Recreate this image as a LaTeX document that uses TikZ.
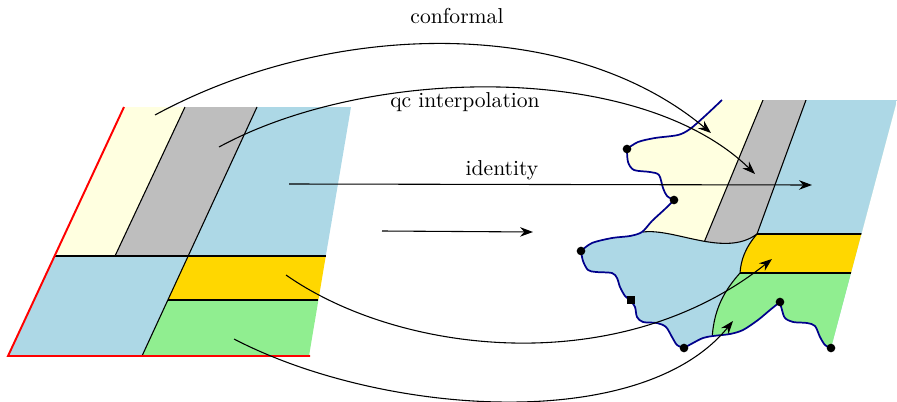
\documentclass[tikz,border=0pt]{standalone}
\usetikzlibrary{arrows.meta}
\definecolor{lyel}{HTML}{FFFFE0}
\definecolor{grayc}{HTML}{BEBEBE}
\definecolor{lbl}{HTML}{ADD8E6}
\definecolor{goldc}{HTML}{FFD700}
\definecolor{lgreen}{HTML}{90EE90}
\definecolor{navyc}{HTML}{00008B}
\begin{document}
\begin{tikzpicture}[x=0.4630pt,y=-0.4630pt,
  conn/.style={line width=0.5pt,-{Stealth[length=6pt,width=4.4pt]}},
  edgeline/.style={line width=0.5pt,black},
  redline/.style={red,line width=0.9pt},
  wavyline/.style={navyc,line width=0.8pt},
  dotc/.style={circle,fill=black,inner sep=0pt,minimum size=4pt},
  sqdot/.style={rectangle,fill=black,inner sep=0pt,minimum size=3.4pt},
  lab/.style={inner sep=1pt}]
\useasboundingbox (0,0) rectangle (897,402);

% ---------- left parallelogram ----------
\fill[lyel] (124,107) -- (185,107) -- (115,256) -- (55,256) -- cycle;
\fill[grayc] (185,107) -- (257,107) -- (188,256) -- (115,256) -- cycle;
\fill[lbl] (257,107) -- (351,107) -- (325.8,256) -- (188,256) -- cycle;
\fill[lbl] (55,256) -- (188,256) -- (142,356) -- (8,356) -- cycle;
\fill[goldc] (188,256) -- (325.8,256) -- (318.4,300) -- (167.6,300) -- cycle;
\fill[lgreen] (167.6,300) -- (318.4,300) -- (309,356) -- (142,356) -- cycle;
\draw[edgeline] (185,107) -- (115,256);
\draw[edgeline] (257,107) -- (142,356);
\draw[edgeline] (55,256) -- (325.8,256);
\draw[edgeline] (167.6,300) -- (318.4,300);
\draw[redline] (124,107) -- (8,356) -- (310,356);

% ---------- right shape ----------
\def\rwave{(722,100) -- plot[smooth] coordinates {(722,100) (705,116) (690,129) (678,135) (655,138) (638,142) (627,149)}
 -- plot[smooth] coordinates {(627,149) (628,162) (634,170) (650,172) (659,175) (663,188) (667,196) (674,200)}
 -- plot[smooth] coordinates {(674,200) (665,209) (652,221) (642,232) (630,236) (612,238) (592,243) (581,251)}
 -- plot[smooth] coordinates {(581,251) (583,261) (588,270) (596,272) (612,273) (617,278) (620,287) (625,296) (630,300)}
 -- plot[smooth] coordinates {(630,300) (635,307) (637,317) (643,322) (657,323) (666,327) (672,337) (677,345) (684,348)}
 -- plot[smooth] coordinates {(684,348) (693,343) (703,338) (713,336) (730,334) (743,330) (758,320) (770,310) (780,302)}
 -- plot[smooth] coordinates {(780,302) (782,310) (785,318) (793,322) (807,323) (815,326) (820,337) (825,345) (831,348)}}
\begin{scope}
\clip \rwave -- (897,100) -- cycle;
\fill[lbl] (550,90) rectangle (900,402);
\begin{scope}
\clip (560,80) -- (900,80) -- (900,234) -- (757,234) .. controls (725,258) and (675,228) .. (643,232) -- (560,232) -- cycle;
\fill[lyel] (560,80) rectangle (900,262);
\fill[grayc] (763,100) -- (806,100) -- (757,234) -- (757,262) -- (696,262) -- cycle;
\fill[lbl] (806,100) -- (900,100) -- (900,234) -- (757,234) -- cycle;
\end{scope}
\fill[goldc] (757,234) -- (900,234) -- (900,273) -- (740,273) .. controls (741,260) and (745,248) .. (757,234) -- cycle;
\fill[lgreen] (740,273) -- (900,273) -- (900,402) -- (712,402) -- (712,345) .. controls (712,310) and (725,290) .. (740,273) -- cycle;
\draw[edgeline] (643,232) .. controls (675,228) and (725,258) .. (757,234);
\draw[edgeline] (763,100) -- (704.5,241.3);
\draw[edgeline] (806,100) -- (757,234);
\draw[edgeline] (757,234) -- (900,234);
\draw[edgeline] (740,273) -- (900,273);
\draw[edgeline] (757,234) .. controls (745,248) and (741,260) .. (740,273) .. controls (725,290) and (712,310) .. (712,345);
\end{scope}
\draw[wavyline] \rwave;
\node[dotc] (d1) at (627,149) {};
\node[dotc] (d2) at (674,200) {};
\node[dotc] (d3) at (581,251) {};
\node[sqdot] (d4) at (631,300) {};
\node[dotc] (d5) at (684,348) {};
\node[dotc] (d6) at (780,302) {};
\node[dotc] (d7) at (831,348) {};

% ---------- connectors ----------
\coordinate (cfS) at (155,115);  \coordinate (cfE) at (711,133);
\coordinate (qcS) at (219,147);  \coordinate (qcE) at (755,174);
\coordinate (idS) at (289,184);  \coordinate (idE) at (812,185);
\coordinate (shS) at (382,231);  \coordinate (shE) at (533,232);
\coordinate (goS) at (286,275);  \coordinate (goE) at (772,259);
\coordinate (grS) at (234,339);  \coordinate (grE) at (733,321);
\draw[conn] (cfS) .. controls (330,20) and (570,15) .. (cfE);
\draw[conn] (qcS) .. controls (370,65) and (640,62) .. (qcE);
\draw[conn] (idS) -- (idE);
\draw[conn] (shS) -- (shE);
\draw[conn] (goS) .. controls (400,355) and (620,380) .. (goE);
\draw[conn] (grS) .. controls (380,415) and (640,435) .. (grE);

\node[lab] (lconf) at (457,16.5) {conformal};
\node[lab] (lqc) at (465,102.5) {qc interpolation};
\node[lab] (lid) at (502,170.5) {identity};
\end{tikzpicture}
\end{document}
